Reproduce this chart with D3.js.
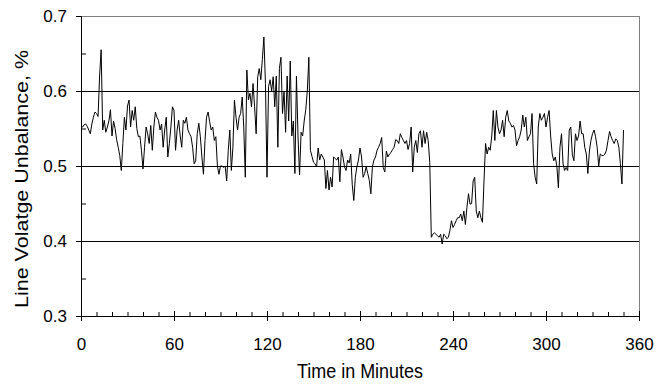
<!DOCTYPE html>
<html>
<head>
<meta charset="utf-8">
<script src="https://cdn.jsdelivr.net/npm/d3@7"></script>
<style>
  body { margin: 0; background: #fff; }
  svg { display: block; font-family: "Liberation Sans", Arial, sans-serif; }
</style>
</head>
<body>
<div id="chart"></div>
<script>
// line voltage unbalance (%), one reading per minute
const hour1 = [
  0.550, 0.552, 0.555, 0.556, 0.553, 0.548, 0.543, 0.556, 0.565, 0.572,
  0.570, 0.566, 0.620, 0.655, 0.548, 0.561, 0.545, 0.552, 0.560, 0.575,
  0.540, 0.560, 0.550, 0.535, 0.525, 0.514, 0.494, 0.530, 0.565, 0.548,
  0.580, 0.588, 0.552, 0.574, 0.561, 0.579, 0.550, 0.539, 0.540, 0.521,
  0.496, 0.525, 0.552, 0.543, 0.530, 0.554, 0.521, 0.552, 0.572, 0.565,
  0.561, 0.548, 0.556, 0.525, 0.548, 0.565, 0.512, 0.530, 0.552, 0.579
];
const hour2 = [
  0.574, 0.521, 0.548, 0.561, 0.540, 0.525, 0.561, 0.557, 0.565, 0.548,
  0.543, 0.539, 0.525, 0.503, 0.507, 0.543, 0.557, 0.539, 0.512, 0.489,
  0.534, 0.565, 0.572, 0.559, 0.548, 0.552, 0.534, 0.539, 0.500, 0.489,
  0.500, 0.500, 0.498, 0.500, 0.480, 0.521, 0.548, 0.494, 0.525, 0.588,
  0.565, 0.548, 0.565, 0.570, 0.592, 0.552, 0.485, 0.628, 0.588, 0.597,
  0.579, 0.610, 0.579, 0.543, 0.619, 0.630, 0.615, 0.642, 0.672, 0.610
];
const hour3 = [
  0.485, 0.606, 0.615, 0.600, 0.619, 0.579, 0.620, 0.525, 0.630, 0.645,
  0.570, 0.600, 0.545, 0.620, 0.560, 0.640, 0.540, 0.560, 0.490, 0.620,
  0.540, 0.488, 0.545, 0.540, 0.560, 0.575, 0.600, 0.645, 0.521, 0.513,
  0.505, 0.503, 0.499, 0.524, 0.508, 0.516, 0.512, 0.508, 0.470, 0.494,
  0.468, 0.485, 0.472, 0.512, 0.510, 0.508, 0.512, 0.479, 0.522, 0.512,
  0.499, 0.494, 0.508, 0.504, 0.516, 0.475, 0.454, 0.485, 0.499, 0.508
];
const hour4 = [
  0.524, 0.512, 0.485, 0.490, 0.499, 0.490, 0.481, 0.463, 0.499, 0.508,
  0.512, 0.521, 0.525, 0.530, 0.538, 0.498, 0.492, 0.520, 0.512, 0.516,
  0.518, 0.522, 0.525, 0.535, 0.534, 0.530, 0.543, 0.538, 0.534, 0.530,
  0.534, 0.522, 0.530, 0.552, 0.492, 0.525, 0.534, 0.518, 0.543, 0.547,
  0.525, 0.547, 0.530, 0.545, 0.534, 0.505, 0.405, 0.409, 0.411, 0.409,
  0.407, 0.405, 0.409, 0.396, 0.409, 0.407, 0.403, 0.405, 0.414, 0.427
];
const hour5 = [
  0.418, 0.422, 0.427, 0.431, 0.431, 0.436, 0.427, 0.440, 0.422, 0.445,
  0.463, 0.449, 0.450, 0.480, 0.485, 0.440, 0.431, 0.440, 0.431, 0.425,
  0.480, 0.530, 0.516, 0.525, 0.521, 0.540, 0.574, 0.534, 0.574, 0.552,
  0.543, 0.548, 0.561, 0.539, 0.565, 0.574, 0.560, 0.557, 0.552, 0.554,
  0.548, 0.527, 0.534, 0.539, 0.548, 0.568, 0.552, 0.565, 0.534, 0.539,
  0.543, 0.570, 0.503, 0.485, 0.476, 0.552, 0.570, 0.561, 0.565, 0.570
];
const hour6 = [
  0.552, 0.565, 0.574, 0.540, 0.516, 0.507, 0.512, 0.500, 0.471, 0.525,
  0.543, 0.503, 0.494, 0.498, 0.494, 0.548, 0.552, 0.515, 0.507, 0.543,
  0.534, 0.540, 0.560, 0.543, 0.543, 0.525, 0.516, 0.490, 0.520, 0.534,
  0.543, 0.548, 0.539, 0.525, 0.500, 0.516, 0.514, 0.514, 0.516, 0.521,
  0.534, 0.546, 0.539, 0.534, 0.530, 0.536, 0.534, 0.525, 0.503, 0.476,
  0.548
];

const yTicks = [0.3, 0.4, 0.5, 0.6, 0.7];
const yMinorTicks = [0.35, 0.45, 0.55, 0.65];
const yGrid = [0.4, 0.5, 0.6];
const xTicks = [0, 60, 120, 180, 240, 300, 360];
const xMinorTicks = [10, 20, 30, 40, 50, 70, 80, 90, 100, 110, 130, 140, 150, 160, 170,
  190, 200, 210, 220, 230, 250, 260, 270, 280, 290, 310, 320, 330, 340, 350];

const width = 664, height = 388;
const margin = { top: 16, right: 25, bottom: 72, left: 81 };

const unbalance = [].concat(hour1, hour2, hour3, hour4, hour5, hour6);
const points = unbalance.map((v, i) => [i, v]); // minute index, value

const svg = d3.select('#chart').append('svg')
  .attr('width', width)
  .attr('height', height);

const x = d3.scaleLinear().domain([0, 360]).range([margin.left, width - margin.right]);
const y = d3.scaleLinear().domain([0.3, 0.7]).range([height - margin.bottom, margin.top]);

// grid lines
svg.append('g')
  .selectAll('line')
  .data(yGrid)
  .join('line')
  .attr('x1', x(0)).attr('x2', x(360))
  .attr('y1', d => Math.round(y(d)) + 0.5)
  .attr('y2', d => Math.round(y(d)) + 0.5)
  .attr('stroke', '#000');

// frame, top and right in grey
svg.append('line')
  .attr('x1', x(0)).attr('x2', x(360) + 0.5)
  .attr('y1', y(0.7) + 0.5).attr('y2', y(0.7) + 0.5)
  .attr('stroke', '#808080');
svg.append('line')
  .attr('x1', x(360) + 0.5).attr('x2', x(360) + 0.5)
  .attr('y1', y(0.7)).attr('y2', y(0.3))
  .attr('stroke', '#808080');

// y axis
svg.append('g')
  .attr('transform', `translate(${margin.left},0)`)
  .call(d3.axisLeft(y).tickValues(yTicks).tickSize(5).tickPadding(9).tickFormat(d3.format('.1f')));
svg.append('g')
  .attr('transform', `translate(${margin.left},0)`)
  .call(d3.axisLeft(y).tickValues(yMinorTicks).tickSize(-5).tickFormat(''))
  .call(g => g.select('.domain').remove());

// x axis, major ticks cross the axis
const xAxis = svg.append('g')
  .attr('transform', `translate(0,${height - margin.bottom})`)
  .call(d3.axisBottom(x).tickValues(xTicks).tickSize(5).tickPadding(17).tickFormat(d3.format('d')));
xAxis.selectAll('.tick line').attr('y1', -5);
svg.append('g')
  .attr('transform', `translate(0,${height - margin.bottom})`)
  .call(d3.axisBottom(x).tickValues(xMinorTicks).tickSize(-4).tickFormat(''))
  .call(g => g.select('.domain').remove());

svg.selectAll('.tick text')
  .attr('font-family', '"Liberation Sans", Arial, sans-serif')
  .attr('font-size', 17)
  .attr('fill', '#000');
svg.selectAll('.domain, .tick line').attr('stroke', '#000');

// series
svg.append('path')
  .datum(points)
  .attr('fill', 'none')
  .attr('stroke', '#000')
  .attr('stroke-width', 1)
  .attr('d', d3.line().x(d => x(d[0])).y(d => y(d[1])));

// axis titles (the original font is a little narrow)
svg.append('text')
  .attr('x', (x(0) + x(360)) / 2)
  .attr('y', 378)
  .attr('text-anchor', 'middle')
  .attr('font-size', 21)
  .attr('textLength', 126)
  .attr('lengthAdjust', 'spacingAndGlyphs')
  .text('Time in Minutes');

svg.append('text')
  .attr('transform', 'translate(28,179) scale(0.85,1) rotate(-90)')
  .attr('text-anchor', 'middle')
  .attr('font-size', 21)
  .attr('textLength', 258)
  .attr('lengthAdjust', 'spacingAndGlyphs')
  .text('Line Volatge Unbalance, %');
</script>
</body>
</html>
